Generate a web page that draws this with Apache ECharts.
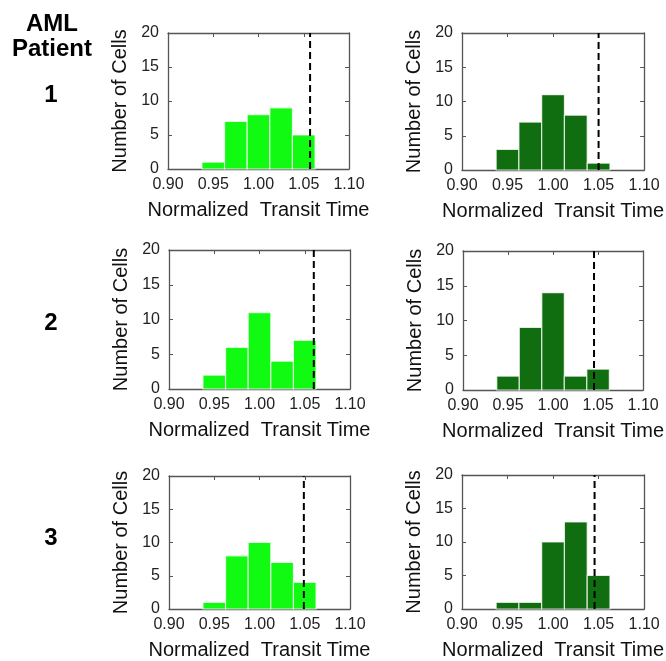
<!DOCTYPE html>
<html>
<head>
<meta charset="utf-8">
<script src="https://cdn.jsdelivr.net/npm/echarts@6/dist/echarts.min.js"></script>
<style>
  html, body { margin: 0; padding: 0; background: #fff; }
  #chart { width: 666px; height: 661px; }
</style>
</head>
<body>
<div id="chart"></div>
<script>
// Histogram bins (centres) shared by every panel, and the bin width
const binCenters = [0.95, 0.975, 1.0, 1.025, 1.05];
const binWidth = 0.025;

// Cell counts per bin, patient 1-3, left (bright) and right (dark) columns
const p1Left  = [1, 7, 8, 9, 5];
const p1Right = [3, 7, 11, 8, 1];
const p2Left  = [2, 6, 11, 4, 7];
const p2Right = [2, 9, 14, 2, 3];
const p3Left  = [1, 8, 10, 7, 4];
const p3Right = [1, 1, 10, 13, 5];

// Threshold (dashed line) per panel
const thresholds = [1.057, 1.050, 1.060, 1.0455, 1.049, 1.0456];

// Axis ranges and ticks
const xTicks = { min: 0.90, max: 1.10, step: 0.05 };
const yTicks = { min: 0, max: 20, step: 5 };

const rowLabels = ['1', '2', '3'];
const headerLines = ['AML', 'Patient'];
const xName = 'Normalized  Transit Time';
const yName = 'Number of Cells';

const brightGreen = '#11fa11';
const darkGreen = '#106e10';

const panels = [
  { counts: p1Left,  color: brightGreen, grid: { left: 168, top: 33, width: 181, height: 136 } },
  { counts: p1Right, color: darkGreen,   grid: { left: 462, top: 33, width: 183, height: 137 } },
  { counts: p2Left,  color: brightGreen, grid: { left: 169, top: 250, width: 181, height: 139 } },
  { counts: p2Right, color: darkGreen,   grid: { left: 463, top: 251, width: 182, height: 139 } },
  { counts: p3Left,  color: brightGreen, grid: { left: 169, top: 476, width: 181, height: 138 } },
  { counts: p3Right, color: darkGreen,   grid: { left: 462, top: 475, width: 183, height: 139 } }
];

const FONT = '"Liberation Sans", Arial, sans-serif';
const boxColor = '#555';

const grid = [], xAxis = [], yAxis = [], series = [];

panels.forEach((p, i) => {
  grid.push(Object.assign({ containLabel: false }, p.grid));
  const common = {
    gridIndex: i, type: 'value',
    axisLine: { show: true, onZero: false, lineStyle: { color: boxColor, width: 1.3 } },
    axisTick: { show: true, inside: true, length: 4, lineStyle: { color: boxColor } },
    splitLine: { show: false }
  };
  // bottom / left axes with labels
  xAxis.push(Object.assign({}, common, {
    position: 'bottom', min: xTicks.min, max: xTicks.max, interval: xTicks.step,
    axisLabel: { color: '#222', fontFamily: FONT, fontSize: 16, margin: 8,
      formatter: v => v.toFixed(2) },
    name: xName, nameLocation: 'middle', nameGap: 31,
    nameTextStyle: { color: '#111', fontFamily: FONT, fontSize: 20 }
  }));
  yAxis.push(Object.assign({}, common, {
    position: 'left', min: yTicks.min, max: yTicks.max, interval: yTicks.step,
    axisLabel: { color: '#222', fontFamily: FONT, fontSize: 16, margin: 9 },
    name: yName, nameLocation: 'middle', nameGap: 38,
    nameTextStyle: { color: '#111', fontFamily: FONT, fontSize: 20 }
  }));
  // mirrored top / right axes closing the box
  xAxis.push(Object.assign({}, common, {
    position: 'top', min: xTicks.min, max: xTicks.max, interval: xTicks.step,
    axisLabel: { show: false }
  }));
  yAxis.push(Object.assign({}, common, {
    position: 'right', min: yTicks.min, max: yTicks.max, interval: yTicks.step,
    axisLabel: { show: false }
  }));

  const xi = i * 2, yi = i * 2;
  series.push({
    type: 'custom',
    xAxisIndex: xi, yAxisIndex: yi,
    data: binCenters.map((c, k) => [c, p.counts[k]]),
    encode: { x: 0, y: 1 },
    renderItem: (params, api) => {
      const c = api.value(0), v = api.value(1);
      const tl = api.coord([c - binWidth / 2, v]);
      const br = api.coord([c + binWidth / 2, 0]);
      return {
        type: 'rect',
        shape: { x: tl[0], y: tl[1], width: br[0] - tl[0], height: br[1] - tl[1] },
        style: { fill: p.color, stroke: 'rgba(255,255,255,0.75)', lineWidth: 1.2 }
      };
    },
    z: 2
  });
  series.push({
    type: 'line',
    xAxisIndex: xi, yAxisIndex: yi,
    data: [[thresholds[i], yTicks.min], [thresholds[i], yTicks.max]],
    symbol: 'none',
    lineStyle: { color: '#000', width: 2, type: [7, 4] },
    z: 5, silent: true
  });
});

// Row headings on the left
const labelFont = 'bold 24px ' + FONT;
const headerY = [24, 49];
const rowY = [95, 323, 538];
const graphic = [];
headerLines.forEach((t, i) => {
  graphic.push({ type: 'text', style: { text: t, x: 52, y: headerY[i], font: labelFont, fill: '#000', align: 'center', verticalAlign: 'middle' } });
});
rowLabels.forEach((t, i) => {
  graphic.push({ type: 'text', style: { text: t, x: 51, y: rowY[i], font: labelFont, fill: '#000', align: 'center', verticalAlign: 'middle' } });
});

const chart = echarts.init(document.getElementById('chart'), null, { renderer: 'canvas' });
chart.setOption({
  animation: false,
  backgroundColor: '#fff',
  grid, xAxis, yAxis, series, graphic
});
</script>
</body>
</html>
